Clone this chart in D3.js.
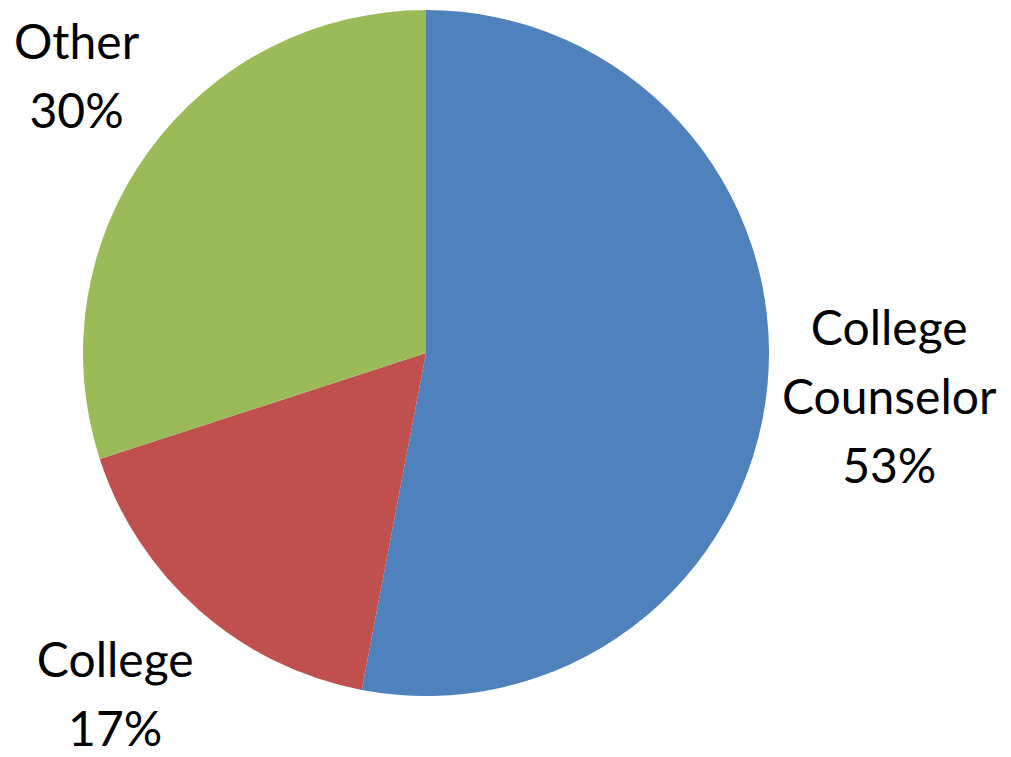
<!DOCTYPE html>
<html>
<head>
<meta charset="utf-8">
<script src="https://cdn.jsdelivr.net/npm/d3@7"></script>
<style>
  html, body { margin: 0; padding: 0; background: #fff; }
  svg { display: block; }
  .lbl { font-family: Lato, "Open Sans", sans-serif; font-size: 48px; fill: #000; }
</style>
</head>
<body>
<div id="chart"></div>
<script>
// dados do grafico
var categories = ["College Counselor", "College", "Other"];
var labelLines = [["College", "Counselor"], ["College"], ["Other"]];
var values = [53, 17, 30];
var colors = ["#4F81BD", "#C0504D", "#9BBB59"];

var width = 1011, height = 757;
var cx = 426, cy = 353, radius = 343;
var labelRadius = 470;
var lineHeight = 69;
var edgeMargin = 14;

var svg = d3.select("#chart")
    .append("svg")
    .attr("width", width)
    .attr("height", height);

var g = svg.append("g")
    .attr("transform", "translate(" + cx + "," + cy + ")");

var data = categories.map(function(c, i) {
    return { name: c, lines: labelLines[i], value: values[i], color: colors[i] };
});

var pie = d3.pie().sort(null).value(function(d) { return d.value; });
var arc = d3.arc().innerRadius(0).outerRadius(radius);
var labelArc = d3.arc().innerRadius(labelRadius).outerRadius(labelRadius);

var arcs = pie(data);

g.selectAll(".slice")
    .data(arcs)
    .enter()
    .append("path")
    .attr("class", "slice")
    .attr("d", arc)
    .attr("fill", function(d) { return d.data.color; });

// labels: nome + percentual, centrado no centroide externo
var labels = g.selectAll(".lbl")
    .data(arcs)
    .enter()
    .append("text")
    .attr("class", "lbl")
    .attr("text-anchor", "middle");

labels.each(function(d) {
    var t = d3.select(this);
    var lines = d.data.lines.concat([d.data.value + "%"]);
    var c = labelArc.centroid(d);
    var capH = 34;
    var blockH = (lines.length - 1) * lineHeight + capH;
    var firstBase = c[1] - blockH / 2 + capH;
    var spans = lines.map(function(line, i) {
        return t.append("tspan")
            .attr("x", c[0])
            .attr("y", firstBase + i * lineHeight)
            .text(line);
    });
    // manter o bloco dentro da area visivel
    var box = this.getBBox();
    var dx = 0, dy = 0;
    if (box.x + cx < edgeMargin) dx = edgeMargin - (box.x + cx);
    if (box.x + box.width + cx > width - edgeMargin) dx = (width - edgeMargin) - (box.x + box.width + cx);
    if (box.y + box.height + cy > height - 1) dy = (height - 1) - (box.y + box.height + cy);
    spans.forEach(function(s, i) {
        s.attr("x", c[0] + dx).attr("y", firstBase + i * lineHeight + dy);
    });
});
</script>
</body>
</html>
